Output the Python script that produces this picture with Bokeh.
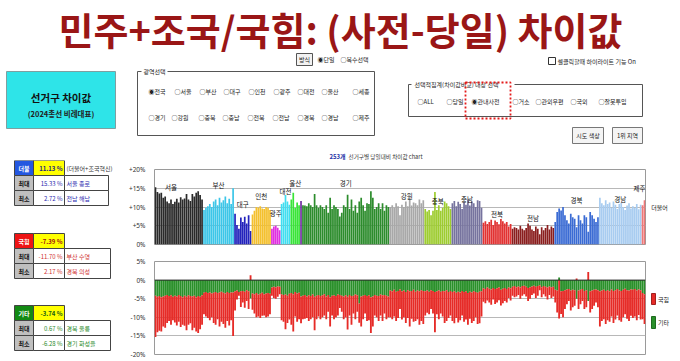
from bokeh.plotting import figure
from bokeh.layouts import row, column
from bokeh.models import Range1d, FixedTicker, ColumnDataSource, Span
from bokeh.core.properties import value
from bokeh.embed import file_html
from bokeh.resources import INLINE

# ---------------- data ----------------
TITLE = "민주+조국/국힘: (사전-당일) 차이값"
CHART_TITLE_A = "253개"
CHART_TITLE_B = "선거구별 당일대비 차이값 chart"

REGIONS = ["서울", "부산", "대구", "인천", "광주", "대전", "울산", "세종", "경기",
           "강원", "충북", "충남", "전북", "전남", "경북", "경남", "제주"]
REGION_COUNTS = [25, 16, 9, 10, 5, 5, 5, 1, 45, 18, 14, 16, 15, 22, 23, 22, 2]

# 더불어(민주+조국) difference, % points
DEM = (
    [15.3, 14.0, 13.6, 13.8, 12.5, 12.8, 11.5, 11.0, 12.0, 10.8, 11.4, 12.2, 11.2,
     12.6, 12.0, 12.3, 13.5, 12.0, 11.6, 13.5, 12.8, 13.8, 14.2, 13.2, 12.0]  # 서울
    + [9.2, 9.8, 10.2, 10.8, 10.0, 11.5, 12.0, 10.5, 12.5, 11.2, 11.8, 12.8, 11.0, 12.2, 10.8, 15.0]  # 부산
    + [8.2, 5.2, 4.2, 7.2, 6.0, 7.4, 5.6, 7.8, 3.6]  # 대구
    + [8.0, 9.0, 10.0, 9.8, 10.2, 9.6, 9.5, 10.0, 9.8, 9.2]  # 인천
    + [4.2, 4.8, 5.0, 4.5, 3.8]  # 광주
    + [10.8, 11.2, 13.2, 11.5, 10.6]  # 대전
    + [12.0, 13.8, 9.8, 11.2, 10.5]  # 울산
    + [11.6]  # 세종
    + [10.5, 10.4, 10.2, 11.0, 10.5, 10.0, 13.5, 10.5, 9.8, 10.5, 10.0, 9.5, 10.5, 8.5, 12.5,
       9.5, 10.5, 10.0, 9.5, 7.5, 8.5, 10.5, 10.0, 13.3, 9.5, 12.0, 9.0, 10.5, 8.5, 11.5,
       12.5, 10.5, 9.0, 11.0, 10.8, 14.2, 12.5, 9.5, 10.0, 11.0, 9.5, 11.0, 9.0, 10.5, 10.0]  # 경기
    + [10.0, 10.5, 9.8, 11.0, 10.2, 7.8, 10.6, 10.0, 11.5, 10.2, 12.5, 10.4, 11.2, 11.0,
       10.5, 12.0, 11.0, 11.8]  # 강원
    + [9.5, 8.8, 9.2, 7.8, 9.0, 14.0, 9.2, 10.5, 9.0, 9.8, 11.5, 11.0, 10.2, 9.5]  # 충북
    + [11.0, 11.6, 10.2, 11.4, 10.8, 9.5, 11.2, 10.6, 12.0, 10.4, 11.5, 11.0, 10.0, 11.8, 11.6, 9.8]  # 충남
    + [5.8, 6.2, 5.5, 6.0, 6.6, 5.2, 6.4, 6.0, 5.4, 6.8, 6.2, 5.6, 6.0, 4.8, 5.5]  # 전북
    + [4.2, 4.6, 4.4, 4.0, 5.0, 4.2, 3.8, 4.4, 5.6, 5.0, 4.0, 3.6, 4.8, 4.2, 2.72, 4.6,
       3.8, 4.4, 5.2, 4.0, 4.8, 4.4]  # 전남
    + [6.0, 8.7, 9.6, 9.1, 10.0, 7.8, 6.5, 5.6, 8.2, 7.3, 6.9, 4.6, 7.8, 6.5, 5.6, 7.8,
       7.3, 3.4, 8.7, 7.8, 6.9, 6.0, 7.3]  # 경북
    + [12.5, 11.0, 10.5, 11.8, 10.8, 11.2, 9.8, 11.5, 10.6, 9.5, 10.8, 11.2, 10.0, 9.2,
       10.4, 11.0, 9.6, 10.2, 9.8, 10.8, 9.4, 10.6]  # 경남
    + [10.5, 11.8]  # 제주
)

# 기타 difference
ETC = (
    [-4.2, -4.5, -4.3, -4.6, -4.4, -4.2, -4.0, -4.3, -4.1, -4.5, -4.2, -4.4, -4.0, -4.3,
     -4.6, -4.2, -4.5, -4.1, -4.3, -4.4, -4.2, -4.6, -4.3, -4.5, -4.1]
    + [-3.4, -3.2, -3.5, -3.3, -3.6, -3.4, -3.2, -3.5, -3.3, -3.1, -3.4, -3.6, -3.2, -3.5, -3.3, -3.3]
    + [-3.0, -2.8, -3.2, -3.0, -2.9, -3.1, -2.7, -3.0, -4.9]
    + [-3.6, -3.8, -3.5, -3.9, -3.7, -3.4, -3.8, -3.6, -3.5, -3.7]
    + [-2.0, -1.8, -1.9, -1.7, -1.8]
    + [-3.8, -4.0, -3.9, -4.2, -3.7]
    + [-3.5, -3.8, -3.2, -3.6, -3.4]
    + [-4.4]
    + [-4.2, -4.0, -4.4, -4.1, -4.3, -3.9, -4.5, -4.2, -4.0, -4.3, -4.1, -3.8, -4.4, -4.0, -4.6,
       -4.2, -4.1, -4.3, -3.9, -4.0, -4.2, -4.4, -4.1, -4.5, -4.0, -4.3, -4.2, -3.9, -4.1, -6.28,
       -4.4, -4.2, -4.0, -4.3, -4.1, -4.6, -4.4, -4.0, -4.2, -4.3, -3.9, -4.1, -4.0, -4.2, -4.4]
    + [-2.8, -3.0, -2.6, -3.1, -2.9, -2.5, -3.0, -2.8, -3.2, -2.7, -3.0, -2.9, -2.6, -3.1,
       -2.8, -3.0, -2.7, -2.9]
    + [-3.0, -2.8, -3.1, -2.7, -2.9, -3.2, -3.0, -2.8, -3.1, -2.9, -3.0, -2.7, -3.2, -2.9]
    + [-3.2, -3.0, -3.4, -3.1, -3.3, -2.9, -3.2, -3.0, -3.5, -3.1, -3.3, -3.0, -3.2, -3.4, -3.1, -3.0]
    + [-2.2, -2.4, -2.0, -2.3, -2.5, -2.1, -2.4, -2.2, -2.0, -2.6, -2.3, -2.1, -2.4, -2.0, -2.2]
    + [-1.8, -1.6, -1.9, -1.7, -2.0, -1.6, -1.5, -1.8, -2.1, -1.9, -1.7, -1.5, -1.8, -1.6,
       -1.4, -1.9, -1.6, -1.8, -2.0, -1.7, -1.9, -1.8]
    + [-2.6, -2.8, 0.67, -3.0, -2.9, -2.7, -2.5, -2.4, -2.8, -2.6, -2.7, -5.0, -2.8, -2.6,
       -2.4, -2.9, -2.7, -5.6, -3.0, -2.8, -2.6, -2.5, -2.7]
    + [-3.0, -2.8, -2.6, -2.9, -2.7, -3.0, -2.5, -2.9, -2.7, -2.4, -2.8, -2.9, -2.6, -2.3,
       -2.7, -2.8, -2.5, -2.6, -2.4, -2.8, -2.5, -2.7]
    + [-3.5, -3.8]
)

# 국힘 difference
PPP = (
    [-11.1, -9.5, -9.3, -9.2, -8.1, -8.6, -7.5, -6.7, -7.9, -6.3, -7.2, -7.8, -7.2, -8.3,
     -7.4, -8.1, -9.0, -7.9, -7.3, -9.1, -8.6, -9.2, -9.9, -8.7, -7.9]
    + [-5.8, -6.6, -6.7, -7.5, -6.4, -8.1, -8.8, -7.0, -9.2, -8.1, -8.4, -9.2, -7.8, -8.7, -7.5, -11.7]
    + [-5.2, -2.4, -1.0, -4.2, -3.1, -4.3, -2.9, -4.8, 1.3]
    + [-4.4, -5.2, -6.5, -5.9, -6.5, -6.2, -5.7, -6.4, -6.3, -5.5]
    + [-2.2, -3.0, -3.1, -2.8, -2.0]
    + [-7.0, -7.2, -9.3, -7.3, -6.9]
    + [-8.5, -10.0, -6.6, -7.6, -7.1]
    + [-7.2]
    + [-6.3, -6.4, -5.8, -6.9, -6.2, -6.1, -9.0, -6.3, -5.8, -6.2, -5.9, -5.7, -6.1, -4.5, -7.9,
       -5.3, -6.4, -5.7, -5.6, -3.5, -4.3, -6.1, -5.9, -8.8, -5.5, -7.7, -4.8, -6.6, -4.4, -5.2,
       -8.1, -6.3, -5.0, -6.7, -6.7, -9.6, -8.1, -5.5, -5.8, -6.7, -5.6, -6.9, -5.0, -6.3, -5.6]
    + [-7.2, -7.5, -7.2, -7.9, -7.3, -5.3, -7.6, -7.2, -8.3, -7.5, -9.5, -7.5, -8.6, -7.9,
       -7.7, -9.0, -8.3, -8.9]
    + [-6.5, -6.0, -6.1, -5.1, -6.1, -10.8, -6.2, -7.7, -5.9, -6.9, -8.5, -8.3, -7.0, -6.6]
    + [-7.8, -8.6, -6.8, -8.3, -7.5, -6.6, -8.0, -7.6, -8.5, -7.3, -8.2, -8.0, -6.8, -8.4, -8.5, -6.8]
    + [-3.6, -3.8, -3.5, -3.7, -4.1, -3.1, -4.0, -3.8, -3.4, -4.2, -3.9, -3.5, -3.6, -2.8, -3.3]
    + [-2.4, -3.0, -2.5, -2.3, -3.0, -2.6, -2.3, -2.6, -3.5, -3.1, -2.3, -2.1, -3.0, -2.6,
       -1.3, -2.7, -2.2, -2.6, -3.2, -2.3, -2.9, -2.6]
    + [-3.4, -5.9, -10.3, -6.1, -7.1, -5.1, -4.0, -3.2, -5.4, -4.7, -4.2, 0.4, -5.0, -3.9,
       -3.2, -4.9, -4.6, 2.17, -5.7, -5.0, -4.3, -3.5, -4.6]
    + [-9.5, -8.2, -7.9, -8.9, -8.1, -8.2, -7.3, -8.6, -7.9, -7.1, -8.0, -8.3, -7.4, -6.9,
       -7.7, -8.2, -7.1, -7.6, -7.4, -8.0, -6.9, -7.9]
    + [-7.0, -8.0]
)

TOP_TICKS = [0, 5, 10, 15, 20]
TOP_TICK_LABELS = ["0%", "+5%", "+10%", "+15%", "+20%"]
BOT_TICKS = [-20, -15, -10, -5, 0, 5]
BOT_TICK_LABELS = ["-20%", "-15%", "-10%", "-5%", "0%", "5%"]

SUM_HEAD = ["더불", "국힘", "기타"]
SUM_AVG = ["11.13 %", "-7.39 %", "-3.74 %"]
SUM_MAX_VAL = ["15.33 %", "-11.70 %", "0.67 %"]
SUM_MAX_NAME = ["서울 종로", "부산 수영", "경북 울릉"]
SUM_MIN_VAL = ["2.72 %", "2.17 %", "-6.28 %"]
SUM_MIN_NAME = ["전남 해남", "경북 의성", "경기 화성을"]
SUM_NOTE = "(더불어+조국혁신)"

RADIO_ROW1 = ["◉전국", "○서울", "○부산", "○대구", "○인천", "○광주", "○대전", "○울산", "○세종"]
RADIO_ROW2 = ["○경기", "○강원", "○충북", "○충남", "○전북", "○전남", "○경북", "○경남", "○제주"]
RADIO_SEL = ["○ALL", "○당일", "◉관내사전", "○거소", "○관외우편", "○국외", "○잘못투입"]

# ---------------- styles / layout ----------------
FONT = "Noto Sans CJK KR"
REGION_COLORS = ["#2a2a2a", "#3cc6e8", "#2222bc", "#f4c02e", "#e030e0", "#40def0", "#38e438",
                 "#7030a0", "#2c8c2c", "#a8a8a8", "#9ecc30", "#76739e", "#e23232", "#8a1e1e",
                 "#3a6bd4", "#a8ccf0", "#f07878"]
GREEN = "#2a902a"
RED = "#e62b27"
ROW1_X = [148, 174, 199, 223, 248, 273, 297, 321, 352]
ROW2_X = [148, 171, 198, 222, 247, 272, 297, 321, 352]
SEL_X = [417, 446, 471, 512, 535, 570, 598]
LABEL_DY = {"부산": 1.8, "대구": 2.0, "인천": 0.7, "광주": 1.2, "울산": 2.2, "경기": 3.3,
            "강원": -0.5, "충북": -1.0, "충남": -1.5, "전북": -0.5, "경북": 1.8, "경남": -1.2,
            "제주": 1.0}
LABEL_DX = {"서울": -4}
UI_FS = 6


def pix_fig(w, h, x0, x1, y0, y1):
    f = figure(width=w, height=h, x_range=Range1d(x0, x1), y_range=Range1d(y1, y0),
               output_backend="svg", toolbar_location=None, x_axis_type=None,
               y_axis_type=None, min_border=0)
    f.outline_line_color = None
    f.background_fill_color = "white"
    f.border_fill_color = "white"
    return f


def txt(f, x, y, s, size, color="#222", align="left", bold=False, font=FONT):
    f.text(x=[x], y=[y], text=[s], text_font=value(font), text_font_size=f"{size}px",
           text_color=color, text_align=align, text_baseline="middle",
           text_font_style="bold" if bold else "normal")


def box(f, l, r, t, b, fill="white", line="#555", **kw):
    f.quad(left=[l], right=[r], top=[t], bottom=[b], fill_color=fill,
           line_color=line, **kw)


# ---------------- top UI ----------------
ui = pix_fig(680, 160, 0, 680, 0, 160)
txt(ui, 340, 28, TITLE, 38, "#9a1616", "center", True)

box(ui, 6, 115, 71, 128, fill="#2ee4e8", line="#7f9fa0")
txt(ui, 60.5, 97, "선거구 차이값", 10.5, "#111", "center", True)
txt(ui, 60.5, 113, "(2024총선 비례대표)", 7.5, "#222", "center", True)

box(ui, 296, 312, 53, 65, fill="#f2f2f2", line="#555")
txt(ui, 304, 59, "방식", UI_FS, "#222", "center")
txt(ui, 317, 59, "◉단일", UI_FS)
txt(ui, 340, 59, "○복수선택", UI_FS)

box(ui, 137, 374, 71, 135, fill=None, line="#555")
box(ui, 141, 167, 67, 75, fill="white", line=None)
txt(ui, 143, 71, "광역선택", UI_FS)
for s, x in zip(RADIO_ROW1, ROW1_X):
    txt(ui, x, 91, s, UI_FS)
for s, x in zip(RADIO_ROW2, ROW2_X):
    txt(ui, x, 117, s, UI_FS)

box(ui, 548, 555, 57, 64, fill="white", line="#333")
txt(ui, 557, 60.5, "셀클릭할때 하이라이트 기능 On", UI_FS)

box(ui, 408, 642, 84, 116, fill=None, line="#555")
box(ui, 411, 514, 80, 88, fill="white", line=None)
txt(ui, 414, 84, "선택적집계(차이값비교) 대상 선택", UI_FS)
for s, x in zip(RADIO_SEL, SEL_X):
    txt(ui, x, 101, s, UI_FS)
ui.quad(left=[465], right=[510], top=[82], bottom=[118], fill_color=None,
        line_color="#e41b1b", line_dash="2 2", line_width=1.8)

box(ui, 572, 603, 127, 143, fill="#f4f4f4", line="#777")
txt(ui, 587.5, 135, "시도 색상", UI_FS, "#222", "center")
box(ui, 612, 642, 127, 143, fill="#f4f4f4", line="#777")
txt(ui, 627, 135, "1위 지역", UI_FS, "#222", "center")

txt(ui, 329, 156, CHART_TITLE_A, 6, "#2633a8", "left", True)
txt(ui, 348, 156, CHART_TITLE_B, 5.6, "#333")

# ---------------- summary tables ----------------
tbl = pix_fig(125, 201, 0, 125, 160, 361)
HEAD_COLORS = ["#2457e0", "#ee1414", "#138a13"]
AVG_COLORS = ["#1c1c80", "#a01010", "#145c14"]
VAL_COLORS = ["#2b2bb0", "#d03030", "#2a8a2a"]
TBL_TOPS = [160, 233, 305]
TBL_RIGHT = [108, 110, 110]
RH = 15
for i in range(3):
    t = TBL_TOPS[i]
    box(tbl, 14, 33, t, t + RH, fill=HEAD_COLORS[i], line="#444")
    txt(tbl, 23.5, t + RH / 2, SUM_HEAD[i], 6, "white", "center", True)
    box(tbl, 33, 64, t, t + RH, fill="#ffff00", line="#444")
    txt(tbl, 62, t + RH / 2, SUM_AVG[i], 6, AVG_COLORS[i], "right", True)
    if i == 0:
        txt(tbl, 66, t + RH / 2, SUM_NOTE, 6, "#333")
    rows = [("최대", SUM_MAX_VAL[i], SUM_MAX_NAME[i]), ("최소", SUM_MIN_VAL[i], SUM_MIN_NAME[i])]
    for k, (lab, v, n) in enumerate(rows):
        y0 = t + RH * (k + 1)
        box(tbl, 14, 33, y0, y0 + RH, fill="#bfbfbf", line="#444")
        txt(tbl, 23.5, y0 + RH / 2, lab, 6, "#111", "center", True)
        box(tbl, 33, 64, y0, y0 + RH, fill="white", line="#444")
        txt(tbl, 62, y0 + RH / 2, v, 6, VAL_COLORS[i], "right")
        box(tbl, 64, TBL_RIGHT[i], y0, y0 + RH, fill="white", line="#444")
        txt(tbl, 66, y0 + RH / 2, n, 6, VAL_COLORS[i])

# ---------------- charts ----------------
N = len(DEM)
assert N == len(ETC) == len(PPP) == sum(REGION_COUNTS)
xs = list(range(N))
bar_colors = [c for c, n in zip(REGION_COLORS, REGION_COUNTS) for _ in range(n)]


def chart_fig(h, yr, ticks, labels, mt, mb):
    f = figure(width=522, height=h, x_range=Range1d(-0.5, N - 0.5), y_range=Range1d(*yr),
               output_backend="svg", toolbar_location=None, x_axis_type=None,
               min_border_left=22, min_border_right=2, min_border_top=mt, min_border_bottom=mb)
    f.yaxis.ticker = FixedTicker(ticks=ticks)
    f.yaxis.major_label_overrides = {t: l for t, l in zip(ticks, labels)}
    f.yaxis.axis_line_color = None
    f.yaxis.major_tick_line_color = None
    f.yaxis.minor_tick_line_color = None
    f.yaxis.major_label_standoff = 3
    f.yaxis.major_label_text_font = "Noto Sans"
    f.yaxis.major_label_text_font_size = "6.5px"
    f.yaxis.major_label_text_color = "#333"
    f.ygrid.ticker = FixedTicker(ticks=ticks)
    f.ygrid.grid_line_color = "#b8b8b8"
    f.outline_line_color = "#9a9a9a"
    f.background_fill_color = "white"
    f.border_fill_color = "white"
    return f


topc = chart_fig(92, (0, 20), TOP_TICKS, TOP_TICK_LABELS, 9, 8)
src = ColumnDataSource(dict(x=xs, top=DEM, color=bar_colors))
topc.vbar(x="x", top="top", bottom=0, width=0.88, fill_color="color", line_color=None, source=src)

# region labels
lab_x, lab_y, lab_t = [], [], []
start = 0
for name, n in zip(REGIONS, REGION_COUNTS):
    vals = DEM[start:start + n]
    y = sum(vals) / n + 2.8 + LABEL_DY.get(name, 0)
    if name == "제주":
        topc.text(x=[N - 0.5], y=[y], text=[name], text_font=value(FONT),
                  text_font_size="6.5px", text_color="#111", text_align="right",
                  text_baseline="middle")
    elif name != "세종":
        lab_x.append(start + (n - 1) / 2 + LABEL_DX.get(name, 0))
        lab_y.append(y)
        lab_t.append(name)
    start += n
topc.text(x=lab_x, y=lab_y, text=lab_t, text_font=value(FONT), text_font_size="6.5px",
          text_color="#111", text_align="center", text_baseline="middle")

botc = chart_fig(109, (-20, 5), BOT_TICKS, BOT_TICK_LABELS, 9, 7)
g_top = [max(v, 0) for v in ETC]
g_bot = [min(v, 0) for v in ETC]
r_top = [gb if p < 0 else gt + p for p, gt, gb in zip(PPP, g_top, g_bot)]
r_bot = [gb + p if p < 0 else gt for p, gt, gb in zip(PPP, g_top, g_bot)]
botc.vbar(x=xs, top=g_top, bottom=g_bot, width=0.95, fill_color=GREEN, line_color=None)
botc.vbar(x=xs, top=r_top, bottom=r_bot, width=0.95, fill_color=RED, line_color=None)
botc.add_layout(Span(location=0, dimension="width", line_color="#2a2a2a", line_width=1))

# right side labels / legend
rt = pix_fig(33, 201, 647, 680, 160, 361)
txt(rt, 659, 207, "더불어", 6, "#222", "center")
box(rt, 651, 655, 293, 304, fill=RED, line="#a02020")
txt(rt, 657.5, 298.5, "국힘", 6, "#222")
box(rt, 651, 655, 316, 328, fill=GREEN, line="#1e6a1e")
txt(rt, 657.5, 322, "기타", 6, "#222")

layout = column(ui, row(tbl, column(topc, botc), rt))
open("out.html", "w").write(file_html(layout, INLINE))
